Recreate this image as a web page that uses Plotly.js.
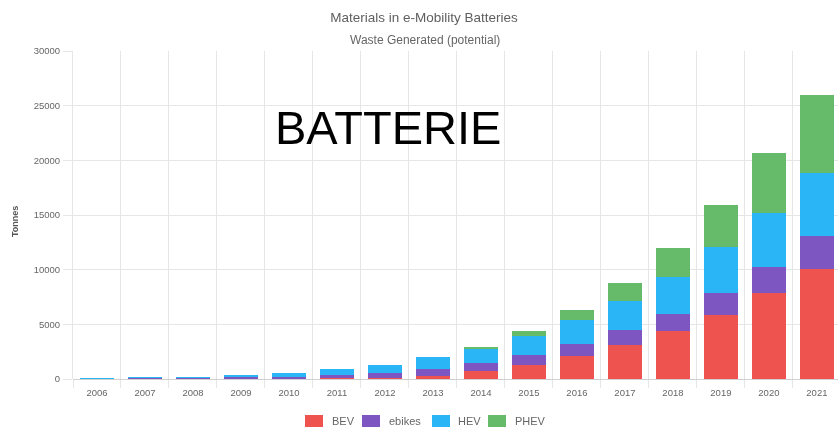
<!DOCTYPE html>
<html>
<head>
<meta charset="utf-8">
<script src="https://cdn.plot.ly/plotly-3.0.1.min.js"></script>
<style>
  html, body { margin: 0; padding: 0; background: #fff; }
  #chart { width: 838px; height: 431px; }
</style>
</head>
<body>
<svg width="1" height="1" style="position:absolute;left:0;top:0">
  <defs>
    <filter id="soft" x="-20%" y="-60%" width="140%" height="220%">
      <feGaussianBlur stdDeviation="0.6"/>
    </filter>
  </defs>
</svg>
<div id="chart"></div>
<script>
// Yearly potential battery waste, tonnes, by vehicle type
const years = ['2006','2007','2008','2009','2010','2011','2012','2013',
               '2014','2015','2016','2017','2018','2019','2020','2021'];
const bev    = [5, 10, 15, 20, 30, 50, 110, 290, 700, 1310, 2090, 3070, 4350, 5880, 7830, 10090];
const ebikes = [15, 50, 80, 120, 180, 280, 450, 580, 740, 860, 1070, 1370, 1620, 2010, 2410, 2960];
const hev    = [30, 80, 130, 230, 380, 560, 700, 1130, 1320, 1750, 2200, 2660, 3350, 4150, 4950, 5800];
const phev   = [0, 0, 0, 0, 0, 10, 20, 40, 210, 460, 980, 1680, 2690, 3910, 5440, 7120];
const yTicks = [0, 5000, 10000, 15000, 20000, 25000, 30000];

const seriesNames  = ['BEV', 'ebikes', 'HEV', 'PHEV'];
const seriesValues = [bev, ebikes, hev, phev];
const seriesColors = ['#ef5350', '#7e57c2', '#29b6f6', '#66bb6a'];

const traces = seriesNames.map((name, i) => ({
  type: 'bar',
  name: name,
  x: years,
  y: seriesValues[i],
  marker: { color: seriesColors[i], line: { width: 0 } },
  showlegend: false,
  hoverinfo: 'x+y+name'
}));

const W = 838, H = 431;
const L = 73, R = 0, T = 51, B = 52;
const px = x => (x - L) / (W - L - R);
const py = y => (H - B - y) / (H - T - B);

const gridCol = '#e6e6e6';
const textCol = '#666666';
const font = 'Liberation Sans, Arial, sans-serif';

// Legend row under the axis: swatch left edge and label left edge per series
const legendBoxX  = [305, 362, 432, 488];
const legendTextX = [330, 387, 456, 513];
const legendY = 421;

const legendShapes = seriesNames.map((name, i) => ({
  type: 'rect',
  xref: 'paper', yref: 'paper',
  x0: px(legendBoxX[i]), x1: px(legendBoxX[i] + 18),
  y0: py(legendY - 6), y1: py(legendY + 6),
  fillcolor: seriesColors[i],
  line: { width: 0 },
  layer: 'above'
}));

const legendLabels = seriesNames.map((name, i) => ({
  text: name,
  xref: 'paper', yref: 'paper',
  x: px(legendTextX[i]), y: py(legendY),
  xanchor: 'left', yanchor: 'middle',
  showarrow: false,
  font: { family: font, size: 11, color: textCol }
}));

const layout = {
  width: W,
  height: H,
  margin: { l: L, r: R, t: T, b: B, pad: 0 },
  paper_bgcolor: '#ffffff',
  plot_bgcolor: '#ffffff',
  barmode: 'stack',
  bargap: 0.29,
  showlegend: false,
  font: { family: font, color: textCol },
  title: {
    text: 'Materials in e-Mobility Batteries',
    font: { family: font, size: 13.5, color: '#5f5f5f' },
    xref: 'container', yref: 'container',
    x: 424 / W, y: (H - 17) / H,
    xanchor: 'center', yanchor: 'middle'
  },
  xaxis: {
    type: 'category',
    range: [-0.5, 15.44],
    tickson: 'boundaries',
    showgrid: true,
    gridcolor: gridCol,
    gridwidth: 1,
    ticks: 'outside',
    ticklen: 8,
    tickcolor: gridCol,
    ticklabelstandoff: 6,
    showline: false,
    zeroline: false,
    tickfont: { family: font, size: 9.5, color: textCol },
    fixedrange: true
  },
  yaxis: {
    range: [0, 30000],
    tickvals: yTicks,
    ticktext: yTicks.map(String),
    showgrid: true,
    gridcolor: gridCol,
    gridwidth: 1,
    ticks: 'outside',
    ticklen: 9,
    tickcolor: gridCol,
    ticklabelstandoff: 1,
    showline: true,
    linecolor: gridCol,
    zeroline: true,
    zerolinecolor: '#d0d0d0',
    zerolinewidth: 1,
    tickfont: { family: font, size: 9.5, color: textCol },
    fixedrange: true
  },
  shapes: legendShapes,
  annotations: [
    {
      text: 'Waste Generated (potential)',
      xref: 'paper', yref: 'paper',
      x: px(425), y: py(40),
      xanchor: 'center', yanchor: 'middle',
      showarrow: false,
      font: { family: font, size: 12, color: textCol }
    },
    {
      text: '<b>Tonnes</b>',
      xref: 'paper', yref: 'paper',
      x: px(15), y: py(222),
      xanchor: 'center', yanchor: 'middle',
      textangle: -90,
      showarrow: false,
      font: { family: font, size: 9, color: '#555555' }
    },
    {
      text: 'BATTERIE',
      xref: 'paper', yref: 'paper',
      x: px(388), y: py(127),
      xanchor: 'center', yanchor: 'middle',
      showarrow: false,
      font: { family: font, size: 47, color: '#000000' }
    }
  ].concat(legendLabels)
};

Plotly.newPlot('chart', traces, layout, { displayModeBar: false, staticPlot: true }).then(gd => {
  // Soften the chart itself; the overlaid heading stays crisp
  const soft = el => el.setAttribute('filter', 'url(#soft)');
  gd.querySelectorAll('.cartesianlayer, .gtitle, .shapelayer').forEach(soft);
  gd.querySelectorAll('.annotation').forEach(a => {
    if (a.textContent !== 'BATTERIE') soft(a);
  });
});
</script>
</body>
</html>
